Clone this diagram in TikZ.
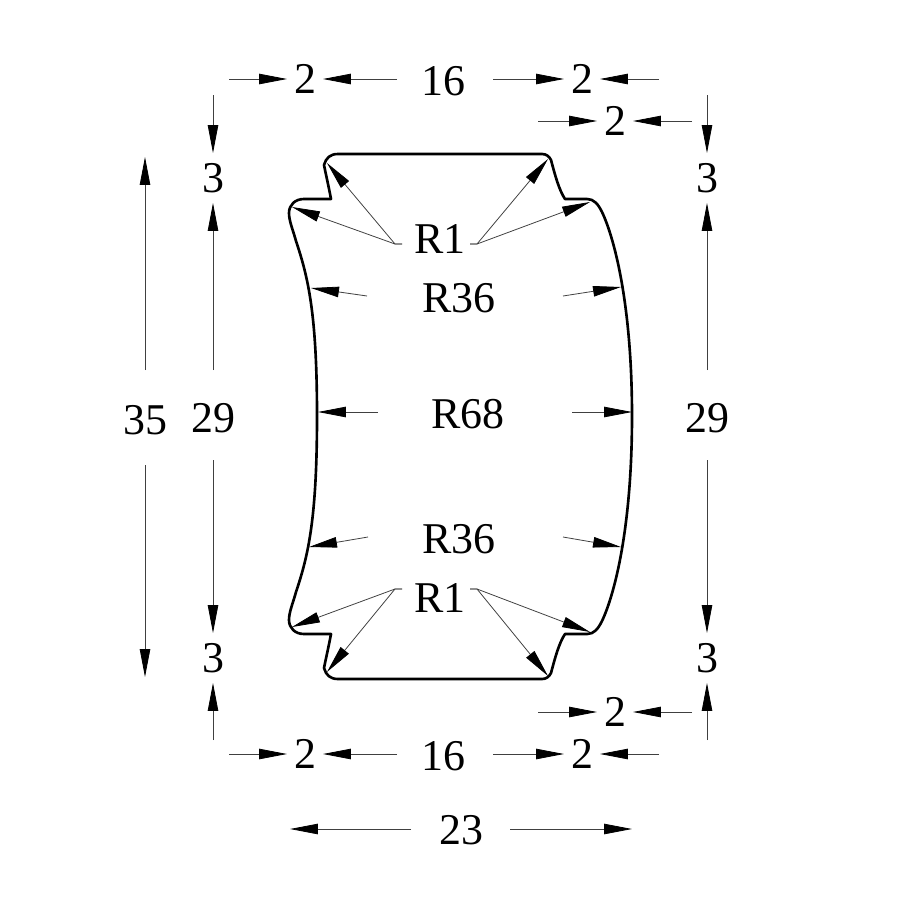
\documentclass[tikz,border=0pt]{standalone}
\usepackage{fontspec}
\setmainfont{Liberation Serif}
\usetikzlibrary{arrows.meta}

\begin{document}
\begin{tikzpicture}[x=0.02cm, y=-0.02cm,
    outline/.style={line width=1.5pt, line join=round},
    leader/.style={line width=0.45pt, black!75},
    dim/.style={leader, -{Stealth[inset=0pt, length=0.56cm, width=0.21cm, black]}},
    lbl/.style={font=\fontsize{25}{30}\selectfont, inner sep=0pt, outer sep=0pt},
    num/.style={lbl, minimum width=0.72cm, minimum height=1cm}
]
\useasboundingbox (0,0) rectangle (900,900);

% Section outline
\draw[outline] (338,154) -- (542,154)
    .. controls (546,154) and (549,156) .. (551,160)
    .. controls (555,175) and (559,190) .. (565,199) -- (587,199)
    .. controls (594,199) and (598,204) .. (602,212)
    .. controls (613,235) and (632,300) .. (632,416)
    .. controls (632,533) and (613,598) .. (602,621)
    .. controls (598,629) and (594,634) .. (587,634)
    -- (565,634)
    .. controls (559,643) and (555,658) .. (551,673)
    .. controls (549,677) and (546,679) .. (542,679) -- (338,679)
    .. controls (330,679) and (326,675) .. (324,668)
    .. controls (326,658) and (329,645) .. (331,634) -- (304,634)
    .. controls (295,634) and (289,628) .. (289,620)
    .. controls (289,612) and (293,603) .. (296,592)
    .. controls (308,556) and (317,520) .. (317,416)
    .. controls (317,313) and (308,277) .. (296,241)
    .. controls (293,230) and (289,221) .. (289,213)
    .. controls (289,205) and (295,199) .. (304,199)
    -- (331,199)
    .. controls (329,188) and (326,175) .. (324,165)
    .. controls (326,158) and (330,154) .. (338,154) -- cycle;

% Dimension numbers
\node[num] (topA) at (305,79) {2};
\node[lbl] (topB) at (443,81) {16};
\node[num] (topC) at (582,79) {2};
\node[num] (upC) at (615,121) {2};
\node[num] (botA) at (305,754) {2};
\node[lbl] (botB) at (443,756) {16};
\node[num] (botC) at (582,754) {2};
\node[num] (lowC) at (615,712) {2};
\node[num] (leftT) at (213,178) {3};
\node[num] (leftB) at (213,658) {3};
\node[num] (rightT) at (707,178) {3};
\node[num] (rightB) at (707,658) {3};
\node[lbl] (leftM) at (213,418) {29};
\node[lbl] (rightM) at (707,418) {29};
\node[lbl] (total) at (145,420) {35};
\node[lbl] (width) at (461,830) {23};

% Free ends of horizontal dimensions
\foreach \name/\px/\py in {a/229/79, b/397/79, c/493/79, d/659/79, e/538/121, f/692/121,
    g/229/754, h/397/754, i/493/754, j/659/754, k/538/712, l/692/712}
    \coordinate (h\name) at (\px,\py);
\foreach \from/\to in {ha/topA, hb/topA, hc/topC, hd/topC, he/upC, hf/upC,
    hg/botA, hh/botA, hi/botC, hj/botC, hk/lowC, hl/lowC}
    \draw[dim] (\from) -- (\to);

% Free ends of vertical dimensions
\foreach \px/\side in {213/left, 707/right} {
    \coordinate (\side1) at (\px,95);
    \coordinate (\side2) at (\px,370);
    \coordinate (\side3) at (\px,460);
    \coordinate (\side4) at (\px,740);
    \draw[dim] (\side1) -- (\side T);
    \draw[dim] (\side2) -- (\side T);
    \draw[dim] (\side3) -- (\side B);
    \draw[dim] (\side4) -- (\side B);
}

% Overall height and width
\coordinate (hiA) at (145,370);
\coordinate (hiB) at (145,157);
\coordinate (hiC) at (145,465);
\coordinate (hiD) at (145,677);
\draw[dim] (hiA) -- (hiB);
\draw[dim] (hiC) -- (hiD);
\coordinate (wiA) at (411,829);
\coordinate (wiB) at (290,829);
\coordinate (wiC) at (510,829);
\coordinate (wiD) at (632,829);
\draw[dim] (wiA) -- (wiB);
\draw[dim] (wiC) -- (wiD);

% Radius labels
\node[lbl] (r1T) at (440,239) {R1};
\node[lbl] (r1B) at (440,598) {R1};
\node[lbl] (r36T) at (459,298) {R36};
\node[lbl] (r36B) at (459,539) {R36};
\node[lbl] (r68) at (468,414) {R68};

% R1 leaders
\foreach \name/\sx/\sy/\ex/\ey/\tx/\ty in {
    ta/402/244/395/244/327/163, tb/402/244/395/244/292/207,
    tc/470/244/477/244/548/159, td/470/244/477/244/590/202,
    ba/402/589/395/589/292/627, bb/402/589/395/589/327/672,
    bc/470/589/477/589/590/632, bd/470/589/477/589/548/676} {
    \coordinate (\name S) at (\sx,\sy);
    \coordinate (\name E) at (\ex,\ey);
    \coordinate (\name T) at (\tx,\ty);
    \draw[dim] (\name S) -- (\name E) -- (\name T);
}

% R36 and R68 leaders
\foreach \name/\sx/\sy/\tx/\ty in {
    pa/367/296/311/288, pb/563/296/621/287,
    pc/368/537/309/547, pd/563/537/621/547,
    pe/378/412/318/412, pf/572/412/632/412} {
    \coordinate (\name S) at (\sx,\sy);
    \coordinate (\name T) at (\tx,\ty);
    \draw[dim] (\name S) -- (\name T);
}
\end{tikzpicture}
\end{document}
